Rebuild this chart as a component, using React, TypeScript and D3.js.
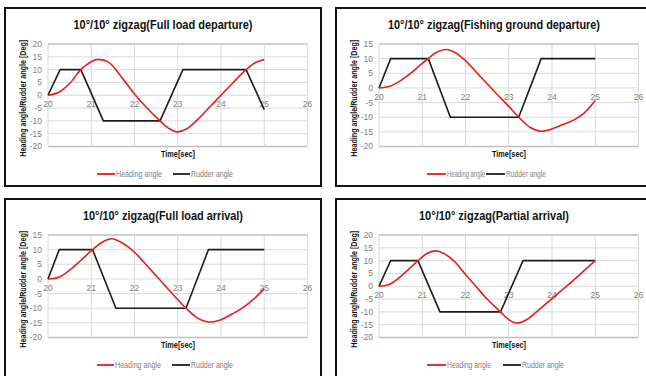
import React from "react";
import * as d3 from "d3";

const timeTicks = [20, 21, 22, 23, 24, 25, 26];
const yTicksA = [20, 15, 10, 5, 0, -5, -10, -15, -20];
const yTicksB = [15, 10, 5, 0, -5, -10, -15, -20];

const titles = [
  "10°/10° zigzag(Full load departure)",
  "10°/10° zigzag(Fishing ground departure)",
  "10°/10° zigzag(Full load arrival)",
  "10°/10° zigzag(Partial arrival)",
];
const seriesNames = ["Heading angle", "Rudder angle"];

// Panel 1 — Full load departure
const p1HeadT = [20, 20.25, 20.5, 20.76, 21.0, 21.17, 21.4, 21.75, 22.0, 22.25, 22.59, 22.8, 22.98, 23.2, 23.5, 23.75, 24.0, 24.25, 24.58, 24.8, 25.0];
const p1HeadV = [0, 1.2, 4.6, 10, 13.1, 14.0, 12.9, 6.0, 0.5, -4.3, -10, -13, -14.3, -13.2, -8.8, -4.4, 0, 4.4, 10, 12.8, 13.9];
const p1RudT = [20, 20.28, 20.76, 21.28, 22.59, 23.12, 24.58, 25.0];
const p1RudV = [0, 10, 10, -10, -10, 10, 10, -5.6];

// Panel 2 — Fishing ground departure
const p2HeadT = [20, 20.25, 20.5, 20.75, 21.0, 21.14, 21.3, 21.56, 21.75, 22.0, 22.25, 22.5, 22.75, 23.0, 23.23, 23.5, 23.74, 24.0, 24.25, 24.5, 24.75, 25.0];
const p2HeadV = [0, 0.6, 2.5, 5.2, 8.4, 10, 11.9, 13.1, 12.2, 9.3, 5.4, 1.4, -2.5, -6.3, -10, -13.5, -14.8, -14.0, -12.5, -11.0, -8.5, -4.3];
const p2RudT = [20, 20.27, 21.14, 21.65, 23.23, 23.75, 25.0];
const p2RudV = [0, 10, 10, -10, -10, 10, 10];

// Panel 3 — Full load arrival
const p3HeadT = [20, 20.25, 20.5, 20.75, 21.03, 21.25, 21.47, 21.75, 22.0, 22.25, 22.5, 22.75, 23.0, 23.19, 23.45, 23.71, 24.0, 24.25, 24.5, 24.75, 25.0];
const p3HeadV = [0, 0.6, 3.0, 6.2, 10, 12.5, 13.7, 12.0, 9.1, 5.2, 1.1, -3.0, -7.1, -10, -13.3, -14.7, -13.9, -12.0, -9.9, -7.0, -3.3];
const p3RudT = [20, 20.26, 21.03, 21.57, 23.19, 23.71, 25.0];
const p3RudV = [0, 10, 10, -10, -10, 10, 10];

// Panel 4 — Partial arrival
const p4HeadT = [20, 20.25, 20.5, 20.75, 20.9, 21.1, 21.3, 21.5, 21.75, 22.0, 22.25, 22.5, 22.81, 23.0, 23.19, 23.4, 23.6, 24.0, 24.5, 24.75, 25.0];
const p4HeadV = [0, 0.8, 3.8, 7.6, 10, 12.7, 13.8, 12.8, 9.6, 4.6, -0.2, -5.0, -10, -13.0, -14.4, -13.2, -10.6, -4.8, 2.4, 6.2, 10];
const p4RudT = [20, 20.27, 20.9, 21.41, 22.81, 23.33, 25.0];
const p4RudV = [0, 10, 10, -10, -10, 10, 10];

const FONT = "'Liberation Sans', Arial, sans-serif";
const RED = "#e41e1e";
const BLACK = "#1c1c1c";
const GRID = "#d9d9d9";
const TICK = "#808080";

type PanelProps = {
  ox: number; oy: number; fw: number; fh: number;
  title: string; titleW: number;
  yTicks: number[];
  headT: number[]; headV: number[]; rudT: number[]; rudV: number[];
  legend: number[];
  legendW: number[];
};

function Panel(p: PanelProps) {
  const x = d3.scaleLinear().domain([20, 26]).range([43, 302.5]);
  const y = d3.scaleLinear().domain([d3.min(p.yTicks)!, d3.max(p.yTicks)!]).range([138.5, 36]);
  const head = p.headT.map((t, i) => [t, p.headV[i]] as [number, number]);
  const rud = p.rudT.map((t, i) => [t, p.rudV[i]] as [number, number]);
  const lineSmooth = d3.line().x((d) => x(d[0])).y((d) => y(d[1])).curve(d3.curveCatmullRom.alpha(0.5));
  const lineStraight = d3.line().x((d) => x(d[0])).y((d) => y(d[1]));
  const yMax = d3.max(p.yTicks)!;
  const yMin = d3.min(p.yTicks)!;
  const ly = 166;
  return (
    <g transform={`translate(${p.ox},${p.oy})`}>
      <rect x={0} y={0} width={p.fw} height={p.fh} fill="white" stroke="#111" strokeWidth={2} />
      <text x={158} y={21} textAnchor="middle" fontFamily={FONT} fontWeight="bold" fontSize={13}
        textLength={p.titleW} lengthAdjust="spacingAndGlyphs" fill="#111">{p.title}</text>
      {p.yTicks.map((v) => (
        <line key={"h" + v} x1={x(20)} x2={x(26)} y1={y(v)} y2={y(v)}
          stroke={v === yMax || v === yMin ? "#bfbfbf" : GRID} strokeWidth={v === yMax || v === yMin ? 1.3 : 1} />
      ))}
      {timeTicks.map((t) => (
        <line key={"v" + t} x1={x(t)} x2={x(t)} y1={y(yMax)} y2={y(yMin)} stroke={GRID} strokeWidth={1} />
      ))}
      {p.yTicks.map((v) => (
        <text key={"yt" + v} x={37} y={y(v)} dy="0.35em" textAnchor="end" fontFamily={FONT} fontSize={8.5} fill={TICK}>{v}</text>
      ))}
      {timeTicks.map((t) => (
        <text key={"xt" + t} x={x(t)} y={y(0) + 12} textAnchor="middle" fontFamily={FONT} fontSize={8.5} fill={TICK}>{t}</text>
      ))}
      <text transform={`translate(21,${(y(yMax) + y(yMin)) / 2 + 3}) rotate(-90)`} textAnchor="middle" fontFamily={FONT}
        fontWeight="bold" fontSize={8.5} textLength={117} lengthAdjust="spacingAndGlyphs" fill="#111">Heading angle/Rudder angle  [Deg]</text>
      <text x={173} y={149} textAnchor="middle" fontFamily={FONT} fontWeight="bold" fontSize={8.5}
        textLength={34} lengthAdjust="spacingAndGlyphs" fill="#111">Time[sec]</text>
      <path d={lineStraight(rud)!} fill="none" stroke={BLACK} strokeWidth={1.6} strokeLinejoin="round" />
      <path d={lineSmooth(head)!} fill="none" stroke={RED} strokeWidth={1.6} />
      <line x1={p.legend[0]} x2={p.legend[1] - 1} y1={ly} y2={ly} stroke={RED} strokeWidth={1.8} />
      <text x={p.legend[1]} y={ly} dy="0.35em" fontFamily={FONT} fontSize={8.5} fill={TICK}
        textLength={p.legendW[0]} lengthAdjust="spacingAndGlyphs">{seriesNames[0]}</text>
      <line x1={p.legend[2]} x2={p.legend[3] - 1} y1={ly} y2={ly} stroke={BLACK} strokeWidth={1.8} />
      <text x={p.legend[3]} y={ly} dy="0.35em" fontFamily={FONT} fontSize={8.5} fill={TICK}
        textLength={p.legendW[1]} lengthAdjust="spacingAndGlyphs">{seriesNames[1]}</text>
    </g>
  );
}

export default function App() {
  return (
    <svg width={646} height={376} style={{ position: "absolute", left: 0, top: 0, background: "white" }}>
      <rect x={0} y={0} width={646} height={376} fill="white" />
      <Panel ox={5} oy={8} fw={316} fh={178} title={titles[0]} titleW={179} yTicks={yTicksA}
        headT={p1HeadT} headV={p1HeadV} rudT={p1RudT} rudV={p1RudV}
        legend={[92, 111, 168, 186]} legendW={[46, 42]} />
      <Panel ox={336} oy={8} fw={320} fh={178} title={titles[1]} titleW={212} yTicks={yTicksB}
        headT={p2HeadT} headV={p2HeadV} rudT={p2RudT} rudV={p2RudV}
        legend={[91, 111, 150, 170]} legendW={[38, 40]} />
      <Panel ox={5} oy={199} fw={316} fh={190} title={titles[2]} titleW={160} yTicks={yTicksB}
        headT={p3HeadT} headV={p3HeadV} rudT={p3RudT} rudV={p3RudV}
        legend={[92, 110, 167, 186]} legendW={[46, 42]} />
      <Panel ox={336} oy={199} fw={320} fh={190} title={titles[3]} titleW={150} yTicks={yTicksA}
        headT={p4HeadT} headV={p4HeadV} rudT={p4RudT} rudV={p4RudV}
        legend={[91, 111, 167, 186]} legendW={[44, 42]} />
    </svg>
  );
}
